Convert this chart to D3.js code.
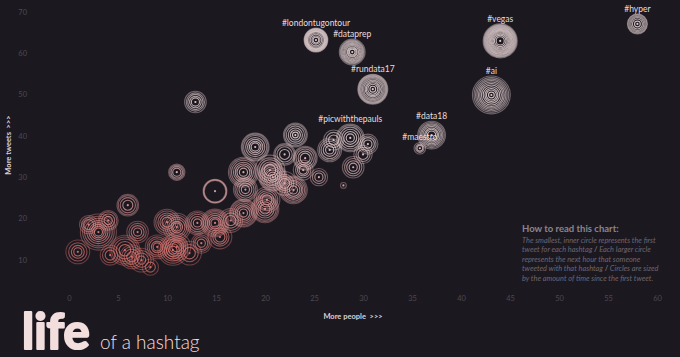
<!DOCTYPE html>
<html>
<head>
<meta charset="utf-8">
<script src="https://cdn.jsdelivr.net/npm/d3@7"></script>
<style>
  html, body { margin: 0; padding: 0; background: #1c1820; }
  svg { display: block; }
</style>
</head>
<body>
<script>
// ---- data ----
const hashtags = ["#hyper","#vegas","#londontugontour","#dataprep","#rundata17","#ai","#data18","#maestro","#picwiththepauls",
  "","","","","","","","","","","","","","","","","","","","","","","","","","","","","","","","","","","","","","","","","","","","","",""];
const people = [58.0,44.0,25.2,28.9,31.0,43.1,37.0,35.8,28.7,
  12.9,23.1,19.0,11.0,14.9,17.8,24.1,29.0,28.0,26.6,20.8,22.9,20.2,23.9,20.5,6.0,3.0,0.9,4.2,7.0,10.0,5.7,6.4,7.4,9.0,10.6,8.3,11.0,11.0,13.1,14.9,15.4,12.3,17.8,20.0,13.5,16.5,2.0,4.0,22.0,25.5,30.0,27.0,30.5,22.0,18.0,9.5,28.4,16.5];
const tweets = [67.1,63.0,63.2,60.3,51.3,49.9,40.2,37.0,39.5,
  48.2,40.2,37.3,31.2,26.6,31.2,34.6,32.4,28.0,36.6,30.0,26.9,24.5,31.7,31.7,23.2,16.7,11.9,11.1,16.7,19.1,12.3,10.7,9.9,13.1,12.3,8.2,17.9,13.1,18.9,18.9,15.5,11.6,21.3,22.3,14.0,19.5,18.5,19.5,35.5,30.0,35.5,39.0,38.0,28.5,27.0,16.0,25.0,24.5];
// hours since first tweet at which each ring was drawn
const ringHours = [
  [0,1,3,5,7,9,11,12],
  [0,2,4,6,8,10,12,14,16,18,20,22,24,26,28,30,32,35],
  [0,1,2,4,6,8,9,10,11,12,13,14,15,16,17],
  [0,1,2,3,5,7,9,11,13,15,17,20],
  [0,1,3,5,7,10,13,16,19,21,23,25,27],
  [0,1,3,5,8,12,16,20,25,30,36,43],
  [0,2,4,6,9,12,15,19,23],
  [0,1,2,4],
  [0,2,5,9,14,19,23],
  [0,2,4,7,10,14],
  [0,1,3,6,10,14,17],
  [0,2,4,7,11,16,20,23],
  [0,2,4,6,8],
  [0,14,15,16,17],
  [0,2,5,8,12,17,22,27],
  [0,3,6,10,14,17],
  [0,2,5,9,14],
  [0,1],
  [0,2,5,9,13,17],
  [0,1,3,6,9,13,17,20,23],
  [0,2,5,8,11,15,19,23],
  [0,3,6,10,14,20],
  [0,2,4,7,12],
  [0,4,8,13,18,27],
  [0,3,7,11,14],
  [0,2,4,7,11,16,23,30,39],
  [0,2,5,10,17],
  [0,3,7,12],
  [0,2,5,9,14],
  [0,3,6,10,15,20],
  [0,4,9,15,21,27],
  [0,3,7,12,17],
  [0,2,6,11,17],
  [0,2,4,8,12,17],
  [0,2,5,9,14,20,27],
  [0,3,8],
  [0,2,4,8,12,17,23],
  [0,3,6,10,15,23],
  [0,2,5,9,13,17],
  [0,2,4,7,11,15,19,23],
  [0,3,6,10,17],
  [0,4,9,17],
  [0,2,5,8,12,16,20,23],
  [0,3,6,10,15,19,23],
  [0,2,5,8,12],
  [0,3,7,12,17],
  [0,3,6,10],
  [0,2,5,9,12],
  [0,3,7,11,14],
  [0,2,5,9],
  [0,3,6,10],
  [0,3,7,12],
  [0,2,5,8,12],
  [0,3,6,10,17],
  [0,2,5,9,13,17],
  [0,3,7,14],
  [0,1],
  [0,2,5,10]
];
const xTicks = [0,5,10,15,20,25,30,35,40,45,50,55,60];
const yTicks = [10,20,30,40,50,60,70];
const legendTitle = "How to read this chart:";
const legendLines = [
  ["The smallest, inner circle represents the first"],
  ["tweet for each hashtag ", "/", " Each larger circle"],
  ["represents the next hour that someone"],
  ["tweeted with that hashtag ", "/", " Circles are sized"],
  ["by the amount of time since the first tweet."]
];

// ---- chart ----
const W = 680, H = 357;
const svg = d3.select("body").append("svg").attr("width", W).attr("height", H);
svg.append("rect").attr("width", W).attr("height", H).attr("fill", "#1c1820");

const x = d3.scaleLinear().domain([0, 60]).range([69, 657]);
const y = d3.scaleLinear().domain([0, 70]).range([301, 12]);
const r = d3.scaleSqrt().domain([0, 48]).range([0, 20]);
const color = d3.scaleLinear().domain([12, 24, 40]).range(["#dc766f", "#e2a2a2", "#efdcdc"]).clamp(true);

const font = "Lato, 'Open Sans', sans-serif";

// axes
const xAxis = svg.append("g").attr("transform", "translate(0,293)")
  .call(d3.axisBottom(x).tickValues(xTicks).tickSize(0).tickPadding(3));
const yAxis = svg.append("g").attr("transform", "translate(29,0)")
  .call(d3.axisLeft(y).tickValues(yTicks).tickSize(0).tickPadding(2));
[xAxis, yAxis].forEach(a => {
  a.select(".domain").remove();
  a.selectAll("text").attr("fill", "#4d4852").attr("font-size", 7.5).attr("font-family", font);
});

svg.append("text").attr("x", 353).attr("y", 319).attr("text-anchor", "middle")
  .attr("fill", "#d9d2d8").attr("font-size", 7.5).attr("font-weight", 700).attr("font-family", font)
  .attr("xml:space", "preserve").text("More people  >>>");
svg.append("text").attr("transform", "translate(11,145) rotate(-90)").attr("text-anchor", "middle")
  .attr("fill", "#d9d2d8").attr("font-size", 7.5).attr("font-weight", 700).attr("font-family", font)
  .attr("xml:space", "preserve").text("More tweets  >>>");

// rings
const data = hashtags.map((h, i) => ({ tag: h, px: people[i], tw: tweets[i], hours: ringHours[i] }));
const groups = svg.append("g").selectAll("g").data(data).join("g")
  .attr("transform", d => `translate(${x(d.px)},${y(d.tw)})`);
groups.selectAll("circle.ring")
  .data(d => { const m = d3.max(d.hours); return d.hours.filter(h => h > 0).map(h => ({ h, tw: d.tw, f: h / m })); })
  .join("circle").attr("class", "ring")
  .attr("r", d => r(d.h))
  .attr("fill", "none")
  .attr("stroke", d => color(d.tw))
  .attr("stroke-width", 1.1)
  .attr("stroke-opacity", d => 0.85 - 0.45 * d.f);
groups.append("circle").attr("r", 1.1).attr("fill", d => color(d.tw)).attr("fill-opacity", 0.9);

// labels
svg.append("g").selectAll("text").data(data.filter(d => d.tag !== "")).join("text")
  .attr("x", d => x(d.px))
  .attr("y", d => y(d.tw) - r(d3.max(d.hours)) - 2)
  .attr("text-anchor", "middle")
  .attr("fill", "#e6dede").attr("font-size", 8.5).attr("font-family", font)
  .text(d => d.tag);

// legend
const lg = svg.append("g").attr("font-family", font);
lg.append("text").attr("x", 522).attr("y", 232).attr("fill", "#8a8590")
  .attr("font-size", 9.5).attr("font-weight", 700).text(legendTitle);
legendLines.forEach((parts, i) => {
  const t = lg.append("text").attr("x", 522).attr("y", 242.5 + i * 9.6)
    .attr("fill", "#6c6772").attr("font-size", 7.4).attr("font-style", "italic")
    .attr("xml:space", "preserve");
  parts.forEach(p => t.append("tspan").attr("font-weight", p === "/" ? 700 : 400).attr("font-style", p === "/" ? "normal" : "italic").text(p));
});

// title
svg.append("text").attr("x", 22).attr("y", 349).attr("fill", "#f3dede")
  .attr("stroke", "#f3dede").attr("stroke-width", 2.2).attr("stroke-linejoin", "round")
  .attr("font-size", 49).attr("font-weight", 700).attr("font-family", font).text("life");
svg.append("text").attr("x", 100).attr("y", 349).attr("fill", "#f3dede")
  .attr("font-size", 19).attr("font-weight", 300).attr("font-family", font).text("of a hashtag");
</script>
</body>
</html>
